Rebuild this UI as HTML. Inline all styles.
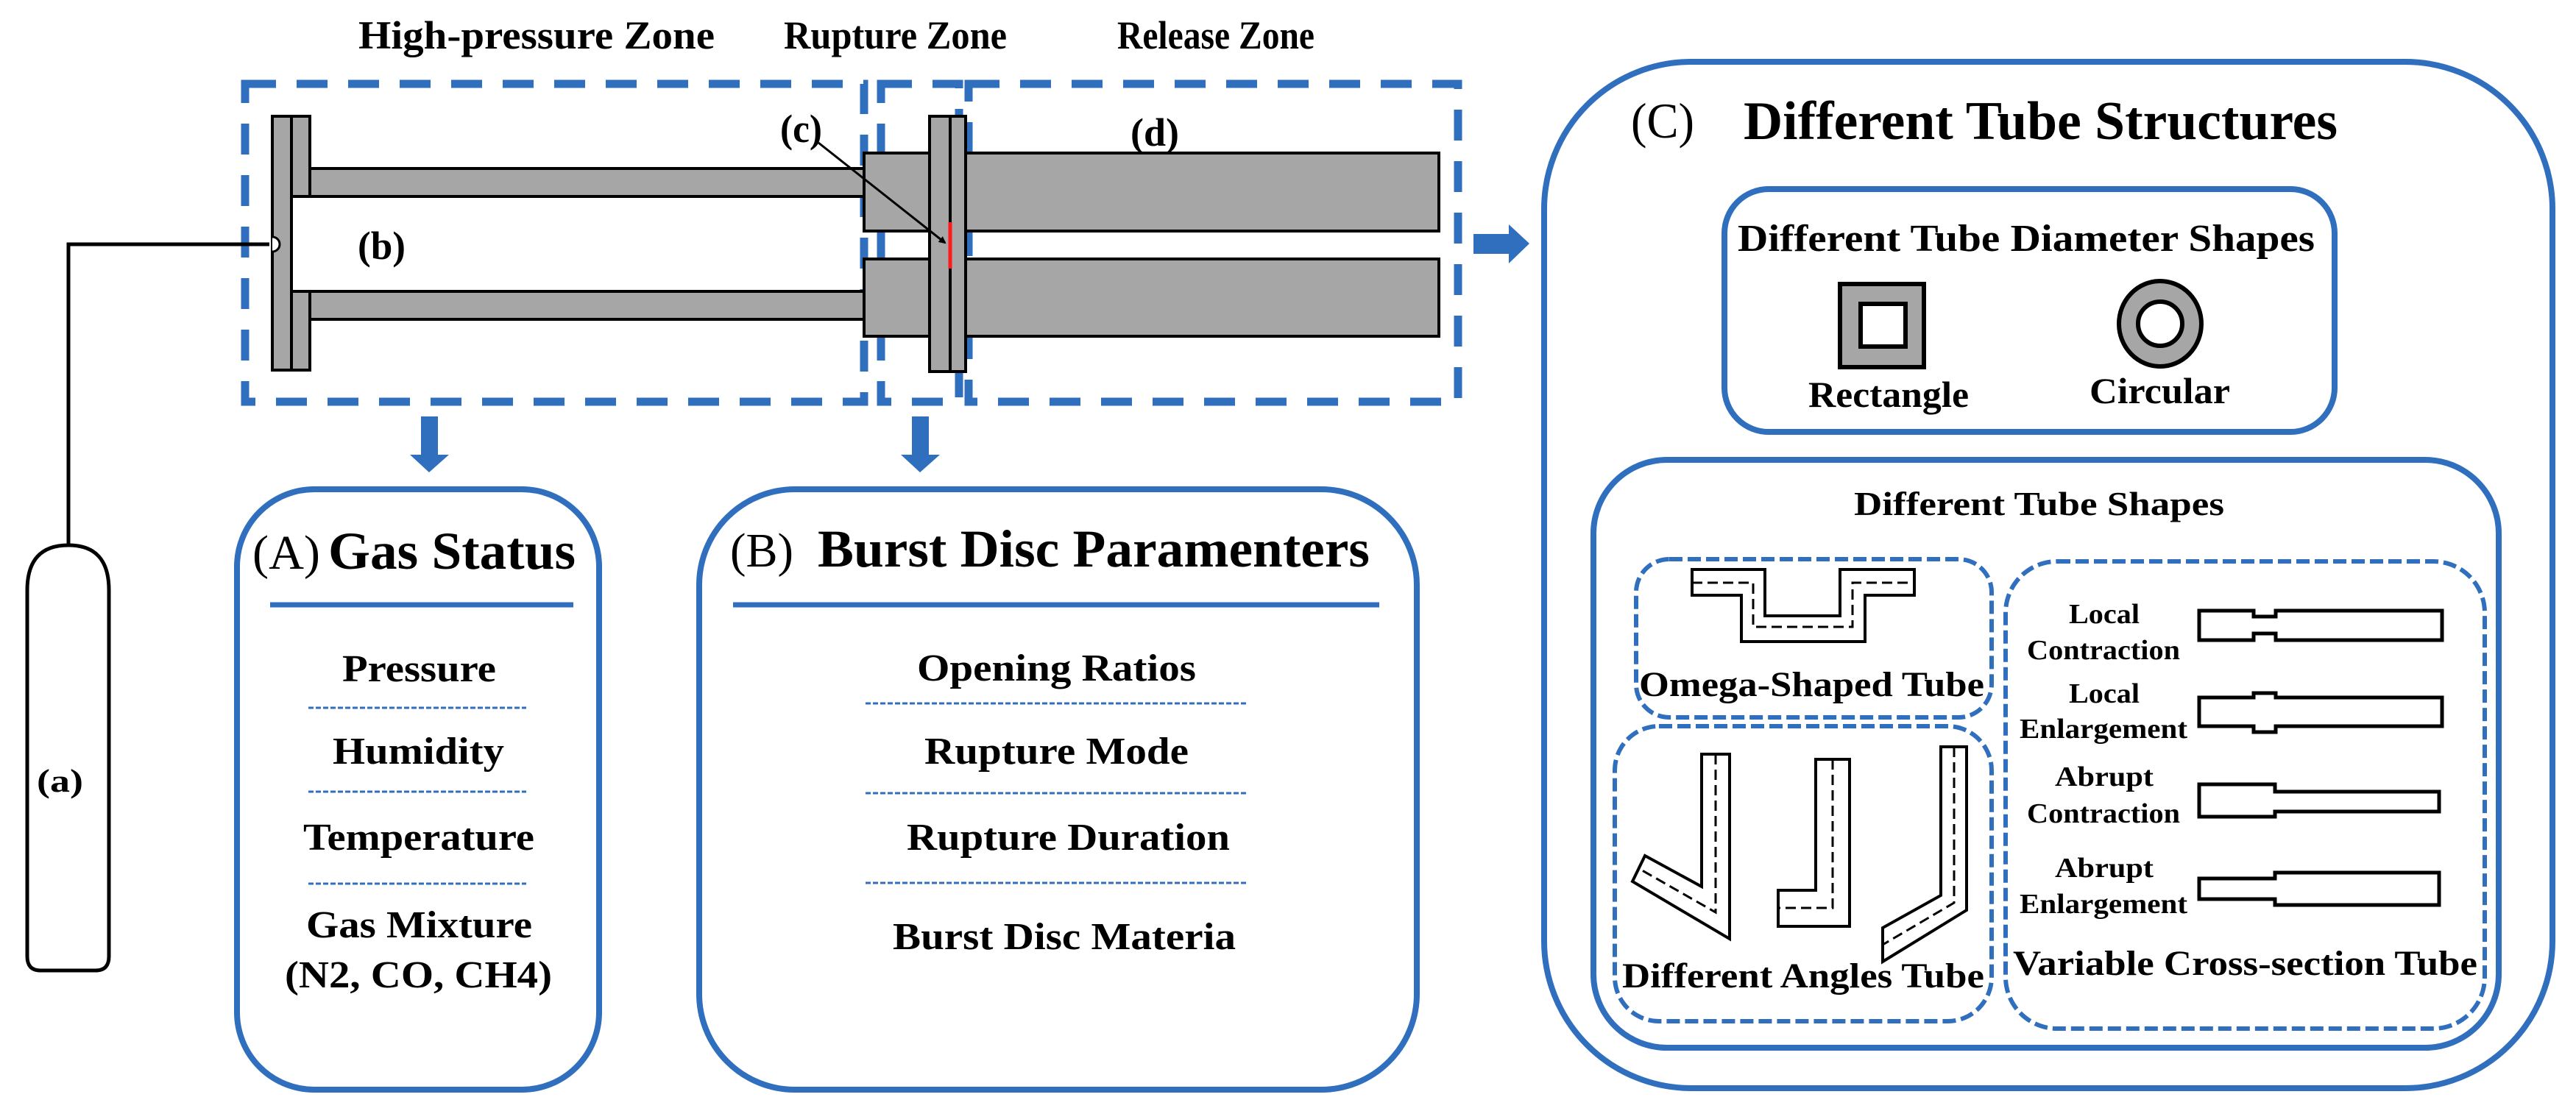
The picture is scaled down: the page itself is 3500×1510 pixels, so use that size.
<!DOCTYPE html>
<html><head><meta charset="utf-8"><style>
html,body{margin:0;padding:0;background:#fff;}
svg{display:block;}
text{font-family:"Liberation Serif",serif;font-weight:bold;fill:#000;}
.r{font-weight:normal;}
</style></head><body>
<svg width="3500" height="1510" viewBox="0 0 3500 1510" xmlns="http://www.w3.org/2000/svg">
<defs>
<marker id="ah" markerWidth="10" markerHeight="10" refX="8" refY="5" orient="auto" markerUnits="userSpaceOnUse" viewBox="0 0 10 10">
<path d="M0,0 L10,5 L0,10 z" fill="#000"/></marker>
</defs>
<g font-size="54">
<text x="487" y="66" textLength="484" lengthAdjust="spacingAndGlyphs">High-pressure Zone</text>
<text x="1065" y="66" textLength="303" lengthAdjust="spacingAndGlyphs">Rupture Zone</text>
<text x="1518" y="66" textLength="268" lengthAdjust="spacingAndGlyphs">Release Zone</text>
</g>
<!-- dashed zone boxes -->
<g fill="none" stroke="#2f6fbe" stroke-width="11" stroke-dasharray="42,28">
<rect x="333" y="114" width="841" height="432"/>
<rect x="1197" y="114" width="106" height="432"/>
<rect x="1316" y="114" width="665" height="432"/>
</g>
<!-- tubes -->
<g fill="#a6a6a6" stroke="#000" stroke-width="4">
<rect x="421" y="229" width="753" height="38"/>
<rect x="421" y="396" width="753" height="38"/>
<rect x="1174" y="208" width="89" height="106"/>
<rect x="1174" y="352" width="89" height="105"/>
<rect x="1312" y="208" width="643" height="106"/>
<rect x="1312" y="352" width="643" height="105"/>
<rect x="1263" y="158" width="28" height="347"/>
<rect x="1291" y="158" width="21" height="347"/>
<rect x="396" y="158" width="25" height="109"/>
<rect x="396" y="396" width="25" height="107"/>
<rect x="370" y="158" width="26" height="345"/>
</g>
<path d="M370,322 A10,10 0 0 1 370,342" fill="#fff" stroke="#000" stroke-width="3"/>
<line x1="1291" y1="302" x2="1291" y2="365" stroke="#ff1a1a" stroke-width="5"/>
<!-- gas line & cylinder -->
<polyline points="366,332 93,332 93,741" fill="none" stroke="#000" stroke-width="5"/>
<path d="M37,802 Q37,741 93,741 Q148,741 148,802 L148,1300 Q148,1319 130,1319 L55,1319 Q37,1319 37,1300 Z" fill="#fff" stroke="#000" stroke-width="5"/>
<text class="" x="50" y="1076" font-size="44" textLength="63" lengthAdjust="spacingAndGlyphs">(a)</text>
<g font-size="54">
<text x="486" y="352" textLength="65" lengthAdjust="spacingAndGlyphs">(b)</text>
<text x="1060" y="193" textLength="57" lengthAdjust="spacingAndGlyphs">(c)</text>
<text x="1536" y="198" textLength="66" lengthAdjust="spacingAndGlyphs">(d)</text>
</g>
<line x1="1112" y1="194" x2="1284" y2="330" stroke="#000" stroke-width="3" marker-end="url(#ah)"/>
<!-- arrows -->
<g fill="#2f6fbe">
<path d="M572,566 H595 V618 H610 L583,642 L557,618 H572 Z"/>
<path d="M1239,566 H1262 V618 H1277 L1250,642 L1224,618 H1239 Z"/>
<path d="M2002,318 H2050 V305 L2078,331 L2050,358 V345 H2002 Z"/>
</g>
<!-- Box A -->
<g fill="none" stroke="#2f6fbe" stroke-width="8">
<rect x="322" y="665" width="492" height="816" rx="105" ry="105"/>
<rect x="950" y="665" width="975" height="816" rx="130" ry="130"/>
<rect x="2098" y="84" width="1370" height="1395" rx="200" ry="200"/>
<rect x="2343" y="257" width="829" height="330" rx="60" ry="60"/>
<rect x="2165" y="625" width="1230" height="799" rx="100" ry="100"/>
</g>
<g stroke="#2f6fbe" stroke-width="7">
<line x1="367" y1="822" x2="779" y2="822"/>
<line x1="996" y1="822" x2="1874" y2="822"/>
</g>
<g stroke="#2f6fbe" stroke-width="3" stroke-dasharray="7,3">
<line x1="419" y1="962" x2="715" y2="962"/>
<line x1="419" y1="1076" x2="715" y2="1076"/>
<line x1="419" y1="1201" x2="715" y2="1201"/>
<line x1="1176" y1="956" x2="1696" y2="956"/>
<line x1="1176" y1="1078" x2="1696" y2="1078"/>
<line x1="1176" y1="1200" x2="1696" y2="1200"/>
</g>
<text class="r" x="343" y="773" font-size="66" textLength="92" lengthAdjust="spacingAndGlyphs">(A)</text>
<text x="446" y="773" font-size="72" textLength="336" lengthAdjust="spacingAndGlyphs">Gas Status</text>
<text class="r" x="992" y="770" font-size="66" textLength="86" lengthAdjust="spacingAndGlyphs">(B)</text>
<text x="1111" y="770" font-size="72" textLength="750" lengthAdjust="spacingAndGlyphs">Burst Disc Paramenters</text>
<g font-size="52">
<text x="465" y="926" textLength="209" lengthAdjust="spacingAndGlyphs">Pressure</text>
<text x="452" y="1038" textLength="233" lengthAdjust="spacingAndGlyphs">Humidity</text>
<text x="412" y="1155" textLength="314" lengthAdjust="spacingAndGlyphs">Temperature</text>
<text x="416" y="1274" textLength="307" lengthAdjust="spacingAndGlyphs">Gas Mixture</text>
<text x="387" y="1342" textLength="363" lengthAdjust="spacingAndGlyphs">(N2, CO, CH4)</text>
<text x="1246" y="925" textLength="379" lengthAdjust="spacingAndGlyphs">Opening Ratios</text>
<text x="1256" y="1038" textLength="359" lengthAdjust="spacingAndGlyphs">Rupture Mode</text>
<text x="1232" y="1155" textLength="439" lengthAdjust="spacingAndGlyphs">Rupture Duration</text>
<text x="1213" y="1290" textLength="466" lengthAdjust="spacingAndGlyphs">Burst Disc Materia</text>
</g>
<!-- Box C -->
<text class="r" x="2216" y="187" font-size="68" textLength="86" lengthAdjust="spacingAndGlyphs">(C)</text>
<text x="2369" y="189" font-size="74" textLength="807" lengthAdjust="spacingAndGlyphs">Different Tube Structures</text>
<text x="2361" y="341" font-size="52" textLength="784" lengthAdjust="spacingAndGlyphs">Different Tube Diameter Shapes</text>
<rect x="2500" y="386" width="114" height="113" fill="#a6a6a6" stroke="#000" stroke-width="6"/>
<rect x="2528" y="413" width="61" height="58" fill="#fff" stroke="#000" stroke-width="6"/>
<ellipse cx="2935" cy="440" rx="56" ry="58" fill="#a6a6a6" stroke="#000" stroke-width="6"/>
<ellipse cx="2935" cy="440" rx="30" ry="30" fill="#fff" stroke="#000" stroke-width="6"/>
<text x="2457" y="553" font-size="50" textLength="218" lengthAdjust="spacingAndGlyphs">Rectangle</text>
<text x="2839" y="548" font-size="50" textLength="191" lengthAdjust="spacingAndGlyphs">Circular</text>
<text x="2519" y="700" font-size="46" textLength="503" lengthAdjust="spacingAndGlyphs">Different Tube Shapes</text>
<g fill="none" stroke="#2f6fbe" stroke-width="6" stroke-dasharray="18,7">
<rect x="2223" y="760" width="483" height="215" rx="45" ry="45"/>
<rect x="2194" y="987" width="512" height="401" rx="60" ry="60"/>
<rect x="2725" y="763" width="651" height="635" rx="70" ry="70"/>
</g>
<!-- omega -->
<path d="M2299,774 H2398 V837 H2500 V774 H2601 V809 H2534 V872 H2366 V809 H2299 Z" fill="#fff" stroke="#000" stroke-width="4"/>
<polyline points="2299,792 2382,792 2382,852 2517,852 2517,792 2601,792" fill="none" stroke="#000" stroke-width="3" stroke-dasharray="14,7"/>
<text x="2227" y="946" font-size="48" textLength="469" lengthAdjust="spacingAndGlyphs">Omega-Shaped Tube</text>
<!-- angles -->
<g fill="#fff" stroke="#000" stroke-width="4">
<polygon points="2312,1025 2350,1025 2350,1276 2218,1198 2235,1163 2312,1205"/>
<polygon points="2467,1032 2513,1032 2513,1259 2416,1259 2416,1210 2467,1210"/>
<polygon points="2637,1015 2672,1015 2672,1237 2558,1307 2558,1261 2637,1217"/>
</g>
<g fill="none" stroke="#000" stroke-width="3" stroke-dasharray="14,7">
<polyline points="2331,1025 2331,1240 2226,1180"/>
<polyline points="2490,1032 2490,1234 2416,1234"/>
<polyline points="2655,1015 2655,1227 2558,1284"/>
</g>
<text x="2204" y="1342" font-size="48" textLength="492" lengthAdjust="spacingAndGlyphs">Different Angles Tube</text>
<!-- variable -->
<g fill="#fff" stroke="#000" stroke-width="5">
<path d="M2988,830 H3062 V838 H3092 V830 H3318 V870 H3092 V861 H3062 V870 H2988 Z"/>
<path d="M2988,948 H3062 V942 H3092 V948 H3318 V987 H3092 V995 H3062 V987 H2988 Z"/>
<path d="M2988,1066 H3091 V1076 H3314 V1103 H3091 V1110 H2988 Z"/>
<path d="M2988,1194 H3091 V1186 H3314 V1230 H3091 V1222 H2988 Z"/>
</g>
<g font-size="38">
<text x="2811" y="847" textLength="96" lengthAdjust="spacingAndGlyphs">Local</text>
<text x="2754" y="896" textLength="208" lengthAdjust="spacingAndGlyphs">Contraction</text>
<text x="2811" y="955" textLength="96" lengthAdjust="spacingAndGlyphs">Local</text>
<text x="2744" y="1003" textLength="228" lengthAdjust="spacingAndGlyphs">Enlargement</text>
<text x="2792" y="1068" textLength="134" lengthAdjust="spacingAndGlyphs">Abrupt</text>
<text x="2754" y="1118" textLength="208" lengthAdjust="spacingAndGlyphs">Contraction</text>
<text x="2792" y="1192" textLength="134" lengthAdjust="spacingAndGlyphs">Abrupt</text>
<text x="2744" y="1241" textLength="228" lengthAdjust="spacingAndGlyphs">Enlargement</text>
</g>
<text x="2735" y="1325" font-size="48" textLength="631" lengthAdjust="spacingAndGlyphs">Variable Cross-section Tube</text>
</svg>
</body></html>
